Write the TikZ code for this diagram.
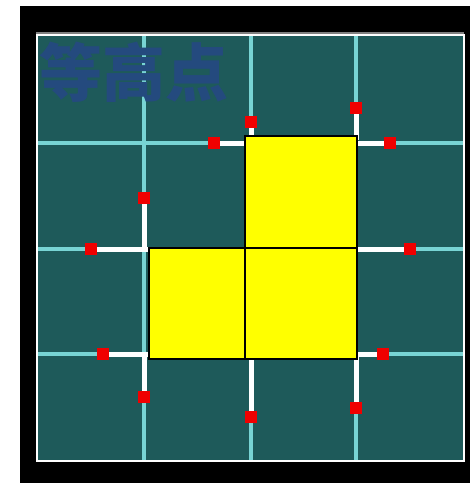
\documentclass[tikz,border=0pt]{standalone}
\usepackage{fontspec}
\newfontfamily\cjk{Noto Sans CJK SC}
\definecolor{panel}{RGB}{30,90,90}
\definecolor{gridc}{RGB}{120,212,212}
\definecolor{titlec}{RGB}{36,74,126}
\definecolor{mred}{RGB}{240,0,0}
\definecolor{ylw}{RGB}{255,255,0}
\tikzset{
  gridline/.style={draw=gridc,line width=3.4pt},
  wline/.style={draw=white,line width=5pt},
  cell/.style={draw=black,line width=1.8pt,fill=ylw},
  marker/.style={fill=mred,draw=mred!70!black,line width=0.6pt,minimum size=11pt,inner sep=0pt,rectangle}
}
\begin{document}
\begin{tikzpicture}[x=1pt,y=-1pt]
\useasboundingbox (0,0) rectangle (470,483);
\fill[white] (0,0) rectangle (470,483);
\fill[black] (20,6) rectangle (470,483);
% panel
\fill[panel] (37,35) rectangle (464,461);
% grid
\foreach \gx in {144,251,356} \draw[gridline] (\gx,36) -- (\gx,460);
\foreach \gy in {143,249,354} \draw[gridline] (38,\gy) -- (463,\gy);
\draw[gray,line width=1.2pt] (36,33) -- (464,33);
\draw[white,line width=2.5pt] (37,35) rectangle (464,461);
% title
\node[text=titlec,font=\cjk\bfseries\fontsize{63}{63}\selectfont,anchor=center] (title) at (134,72) {等高点};
% marker nodes
\node[marker] (m1) at (251,122) {};
\node[marker] (m2) at (214,143) {};
\node[marker] (m3) at (356,108) {};
\node[marker] (m4) at (390,143) {};
\node[marker] (m5) at (144,198) {};
\node[marker] (m6) at (91,249) {};
\node[marker] (m7) at (410,249) {};
\node[marker] (m8) at (103,354) {};
\node[marker] (m9) at (144,397) {};
\node[marker] (m10) at (251,417) {};
\node[marker] (m11) at (356,408) {};
\node[marker] (m12) at (383,354) {};
% anchor coordinates on the yellow shape
\coordinate (c1) at (251,140);
\coordinate (c2) at (248,143);
\coordinate (c3) at (356,140);
\coordinate (c4) at (352,143);
\coordinate (c5) at (144,251.5);
\coordinate (c6) at (152,249);
\coordinate (c7) at (352,249);
\coordinate (c8) at (152,354);
\coordinate (c9) at (144,351.5);
\coordinate (c10) at (251,354);
\coordinate (c11) at (356,352);
\coordinate (c12) at (352,354);
% white connectors
\foreach \i in {1,...,12} \draw[wline] (c\i) -- (m\i.center);
% yellow cells
\node[cell,minimum width=112pt,minimum height=112pt,inner sep=0pt,anchor=north west] (top) at (244,135) {};
\node[cell,minimum width=96pt,minimum height=111pt,inner sep=0pt,anchor=north west] (bl) at (148,247) {};
\node[cell,minimum width=112pt,minimum height=111pt,inner sep=0pt,anchor=north west] (br) at (244,247) {};
% redraw markers on top
\foreach \i/\x/\y in {1/251/122,2/214/143,3/356/108,4/390/143,5/144/198,6/91/249,7/410/249,8/103/354,9/144/397,10/251/417,11/356/408,12/383/354}
  \fill[mred] (\x-6,\y-6) rectangle (\x+6,\y+6);
\end{tikzpicture}
\end{document}
